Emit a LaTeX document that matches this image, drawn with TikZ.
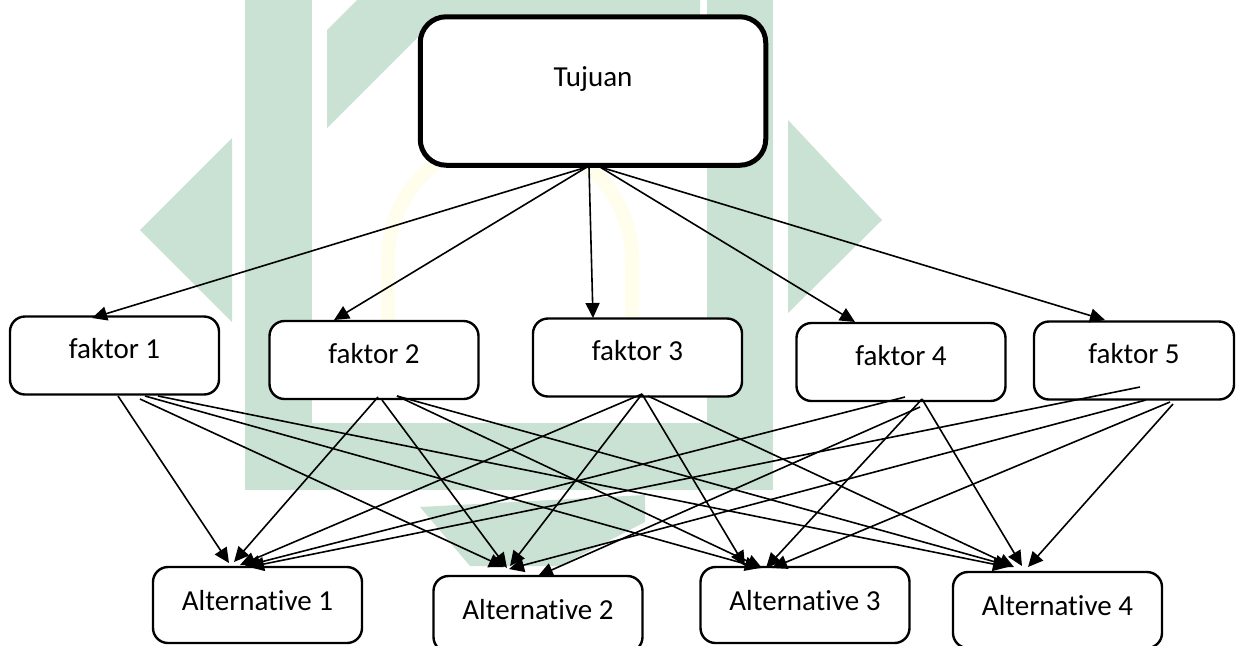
\documentclass[tikz,border=0pt]{standalone}
\usepackage{fontspec}
\setmainfont{Carlito}[Ligatures=NoCommon]
\usetikzlibrary{arrows.meta}
\definecolor{wm}{RGB}{201,226,212}
\definecolor{wy}{RGB}{255,253,236}
\begin{document}
\begin{tikzpicture}[x=0.5pt,y=-0.5pt,
  every node/.style={font=\fontsize{14.5}{17}\selectfont},
  tujbox/.style={draw, line width=2.5pt, rounded corners=13pt, fill=white,
    minimum width=172.75pt, minimum height=74.25pt, inner sep=0pt,
    text height=10pt, text depth=15pt},
  fakbox/.style={draw, line width=1.2pt, rounded corners=7.5pt, fill=white,
    minimum width=104.5pt, minimum height=39pt, inner sep=0pt,
    text height=10pt, text depth=6.6pt},
  altbox/.style={draw, line width=1.2pt, rounded corners=7.5pt, fill=white,
    minimum width=104.5pt, minimum height=38pt, inner sep=0pt,
    text height=10pt, text depth=4.5pt},
  arr/.style={line width=0.8pt, -{Triangle[length=7.5pt,width=7pt]}},
  wmark/.style={fill=wm, draw=none}]
\useasboundingbox (0,0) rectangle (1236,645);
\clip (0,0) rectangle (1236,645);
\fill[white] (0,0) rectangle (1236,645);
% watermark
\fill[wmark] (140,230) -- (232,138) -- (232,322) -- cycle;
\fill[wmark] (245,0) rectangle (312,490);
\fill[wmark] (327,128) -- (327,30) -- (357,0) -- (700,0) -- (700,20) -- (420,35) -- cycle;
\fill[wmark] (245,423) rectangle (773,490);
\fill[wmark] (707,0) rectangle (773,490);
\fill[wmark] (788,120) -- (882,220) -- (788,313) -- cycle;
\fill[wmark] (420,507) -- (645,495) -- (645,522) -- (560,566) -- (470,566) -- cycle;
\draw[wy, line width=7pt] (388,335) -- (388,260) arc[start angle=180, end angle=0, radius=61pt] -- (632,335);
% nodes
\node[tujbox] (tuj) at (593,91) {Tujuan};
\node[fakbox] (f1) at (114.5,355.5) {faktor 1};
\node[fakbox] (f2) at (374,360) {faktor 2};
\node[fakbox] (f3) at (637.5,357.5) {faktor 3};
\node[fakbox] (f4) at (901,362) {faktor 4};
\node[fakbox, minimum width=100pt] (f5) at (1134,360.5) {faktor 5};
\node[altbox] (a1) at (257.5,605) {Alternative 1};
\node[altbox] (a2) at (538,614) {Alternative 2};
\node[altbox] (a3) at (805,605) {Alternative 3};
\node[altbox] (a4) at (1057.5,610) {Alternative 4};
% connector end points
\coordinate (tl) at (587,167);
\coordinate (tm) at (589,167);
\coordinate (tr) at (600,167);
\coordinate (f1t) at (92,318);
\coordinate (f2t) at (334,320);
\coordinate (f3t) at (593,318);
\coordinate (f4t) at (855,322);
\coordinate (f5t) at (1105,320);
\coordinate (f1s1) at (118,396);
\coordinate (f1s2) at (140,399);
\coordinate (f1s3) at (145,396);
\coordinate (f1s4) at (158,396);
\coordinate (f2s1) at (378,397);
\coordinate (f2s2) at (382,400);
\coordinate (f2s3) at (397,396);
\coordinate (f3s1) at (642,394);
\coordinate (f3s2) at (648,396);
\coordinate (f4s1) at (905,397);
\coordinate (f4s2) at (920,407);
\coordinate (f4s3) at (922,399);
\coordinate (f5s1) at (1140,387);
\coordinate (f5s2) at (1146,400);
\coordinate (f5s3) at (1170,402);
\coordinate (f5s4) at (1173,404);
\coordinate (a1t1) at (229,563);
\coordinate (a1t2) at (234,562);
\coordinate (a1t3) at (240,565);
\coordinate (a1t4) at (245,566);
\coordinate (a1t5) at (249,567);
\coordinate (a2t1) at (504,567);
\coordinate (a2t2) at (507,568);
\coordinate (a2t3) at (510,566);
\coordinate (a2t4) at (538,576);
\coordinate (a2t5) at (509,569);
\coordinate (a3t1) at (760,568);
\coordinate (a3t2) at (762,568);
\coordinate (a3t3) at (745,566);
\coordinate (a3t4) at (766,568);
\coordinate (a3t5) at (772,568);
\coordinate (a4t1) at (1008,567);
\coordinate (a4t2) at (1010,566);
\coordinate (a4t3) at (1014,567);
\coordinate (a4t4) at (1022,566);
\coordinate (a4t5) at (1028,567);
% Tujuan -> faktor
\draw[arr] (tl) -- (f1t);
\draw[arr] (tl) -- (f2t);
\draw[arr] (tm) -- (f3t);
\draw[arr] (tr) -- (f4t);
\draw[arr] (tr) -- (f5t);
% faktor -> alternative
\draw[arr] (f1s1) -- (a1t1);
\draw[arr] (f1s2) -- (a2t1);
\draw[arr] (f1s3) -- (a3t1);
\draw[arr] (f1s4) -- (a4t1);
\draw[arr] (f2s1) -- (a1t2);
\draw[arr] (f2s2) -- (a2t2);
\draw[arr] (f2s3) -- (a3t2);
\draw[arr] (f2s3) -- (a4t2);
\draw[arr] (f3s1) -- (a1t3);
\draw[arr] (f3s1) -- (a2t3);
\draw[arr] (f3s1) -- (a3t3);
\draw[arr] (f3s2) -- (a4t3);
\draw[arr] (f4s1) -- (a1t4);
\draw[arr] (f4s2) -- (a2t4);
\draw[arr] (f4s3) -- (a3t4);
\draw[arr] (f4s3) -- (a4t4);
\draw[arr] (f5s1) -- (a1t5);
\draw[arr] (f5s2) -- (a2t5);
\draw[arr] (f5s3) -- (a3t5);
\draw[arr] (f5s4) -- (a4t5);
\end{tikzpicture}
\end{document}
